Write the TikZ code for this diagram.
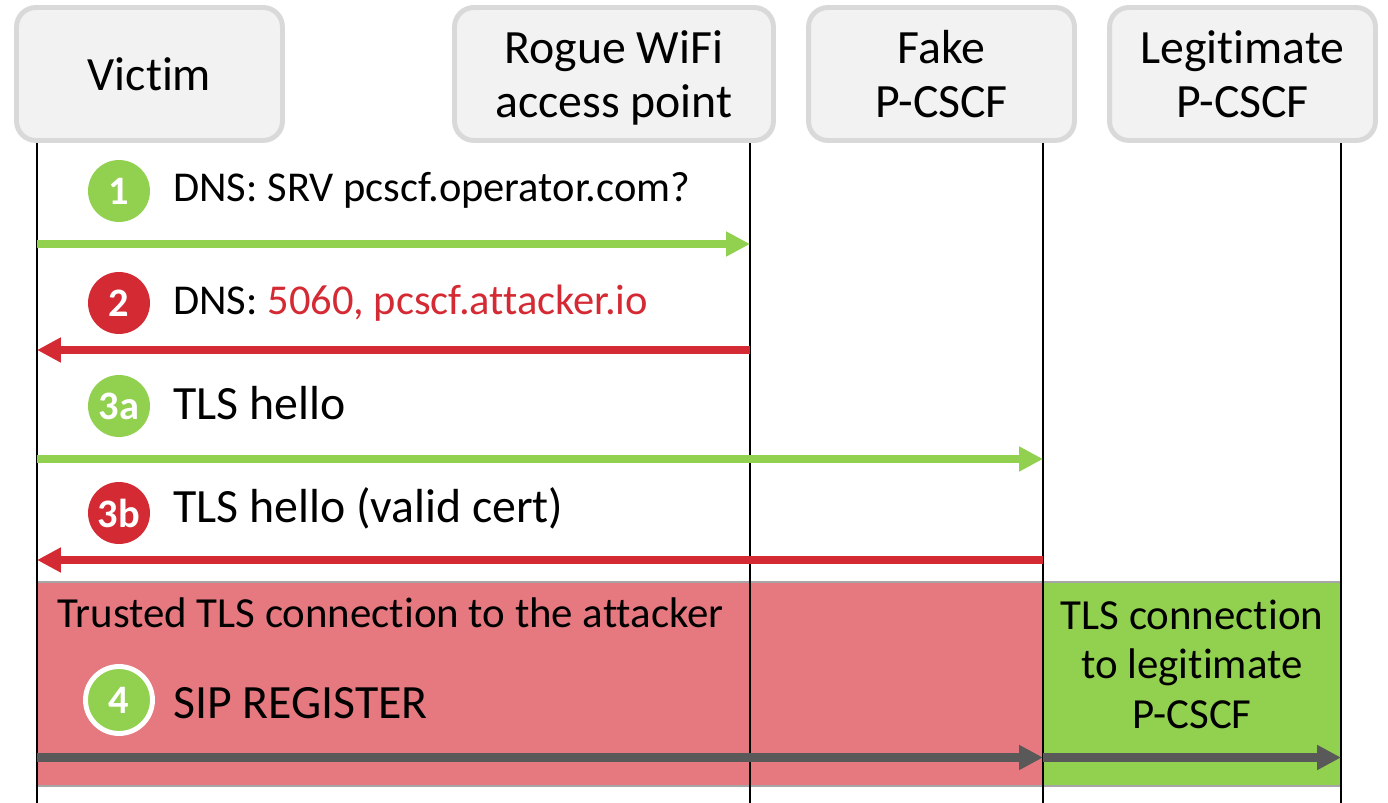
\documentclass[tikz,border=0pt]{standalone}
\usepackage{fontspec}
\setmainfont{Carlito}[Ligatures=NoCommon]
\usetikzlibrary{arrows.meta}
\definecolor{hdrfill}{HTML}{F2F2F2}
\definecolor{hdrdraw}{HTML}{D9D9D9}
\definecolor{okgreen}{HTML}{92D050}
\definecolor{badred}{HTML}{D42A34}
\definecolor{regred}{HTML}{E6797F}
\definecolor{msggray}{HTML}{595959}

\begin{document}
\begin{tikzpicture}[
        x=0.02cm,
        y=-0.02cm,
        party/.style={
            draw=hdrdraw,
            fill=hdrfill,
            line width=2.8pt,
            rounded corners=11pt,
            minimum width=5.32cm,
            minimum height=2.66cm,
            align=center,
            text depth=0pt,
            font=\fontsize{27.2}{31.2}\selectfont,
        },
        badge/.style={
            circle,
            minimum size=1.24cm,
            inner sep=0pt,
            text=white,
            font=\fontsize{23}{23}\selectfont\bfseries,
        },
        msg/.style={
            anchor=base west,
            inner sep=0pt,
            font=\fontsize{27.2}{31}\selectfont,
        },
        small/.style={
            font=\fontsize{24.2}{28}\selectfont,
        },
        region/.style={
            draw=black!35,
            line width=1pt,
        },
        lifeline/.style={
            line width=1.5pt,
        },
    ]
    \useasboundingbox (0, 0) rectangle (1388, 803);

    % participants
    \node[party] (victim) at (149.5, 74) {Victim};
    \node[party, minimum width=6.38cm] (rogue) at (614, 74) {Rogue WiFi\\access point};
    \node[party] (fake) at (941.5, 74) {Fake\\P-CSCF};
    \node[party] (legit) at (1242.5, 74) {Legitimate\\P-CSCF};

    % lifelines
    \coordinate (vl) at (37, 143);
    \coordinate (al) at (750, 143);
    \coordinate (fl) at (1043, 143);
    \coordinate (ll) at (1341, 143);
    \coordinate (bot) at (0, 803);

    % message rows
    \coordinate (r1) at (0, 244);
    \coordinate (r2) at (0, 350);
    \coordinate (r3) at (0, 459);
    \coordinate (r4) at (0, 560);
    \coordinate (r5) at (0, 757.5);
    \coordinate (rtop) at (0, 582);
    \coordinate (rbot) at (0, 786);

    % connection regions
    \filldraw[region, fill=regred] (vl |- rtop) rectangle (fl |- rbot);
    \filldraw[region, fill=okgreen] (fl |- rtop) rectangle (ll |- rbot);
    \node[msg, font=\fontsize{24.4}{28}\selectfont] (trusted) at (57, 627) {Trusted TLS connection to the attacker};
    \node[align=center, text depth=0pt, font=\fontsize{24.4}{28.3}\selectfont] (legtls) at (1192, 664) {TLS connection\\to legitimate\\P-CSCF};

    \draw[lifeline] (vl) -- (vl |- bot);
    \draw[lifeline] (al) -- (al |- bot);
    \draw[lifeline] (fl) -- (fl |- bot);
    \draw[lifeline] (ll) -- (ll |- bot);

    % messages
    \begin{scope}[-{Triangle[length=13.6pt, width=13.4pt]}, line width=4pt]
        \draw[okgreen] (vl |- r1) -- (al |- r1);
        \draw[badred] (al |- r2) -- (vl |- r2);
        \draw[okgreen] (vl |- r3) -- (fl |- r3);
        \draw[badred] (fl |- r4) -- (vl |- r4);
        \draw[msggray, line width=4.6pt] (vl |- r5) -- (fl |- r5);
        \draw[msggray, line width=4.6pt] (fl |- r5) -- (ll |- r5);
    \end{scope}

    \node[badge, fill=okgreen] (n1) at (119, 191) {1};
    \node[badge, fill=badred] (n2) at (119, 303) {2};
    \node[badge, fill=okgreen] (n3a) at (119, 406) {3a};
    \node[badge, fill=badred] (n3b) at (119, 513) {3b};
    \node[badge, fill=okgreen, draw=white, line width=2.8pt, minimum size=1.34cm] (n4) at (119, 700) {4};

    \node[msg, small] (m1) at (173, 202) {DNS: SRV pcscf.operator.com?};
    \node[msg, small] (m2) at (173, 315) {DNS: \textcolor{badred}{5060, pcscf.attacker.io}};
    \node[msg] (m3a) at (173, 419) {TLS hello};
    \node[msg] (m3b) at (173, 522) {TLS hello (valid cert)};
    \node[msg] (m4) at (173, 718) {SIP REGISTER};
\end{tikzpicture}
\end{document}
